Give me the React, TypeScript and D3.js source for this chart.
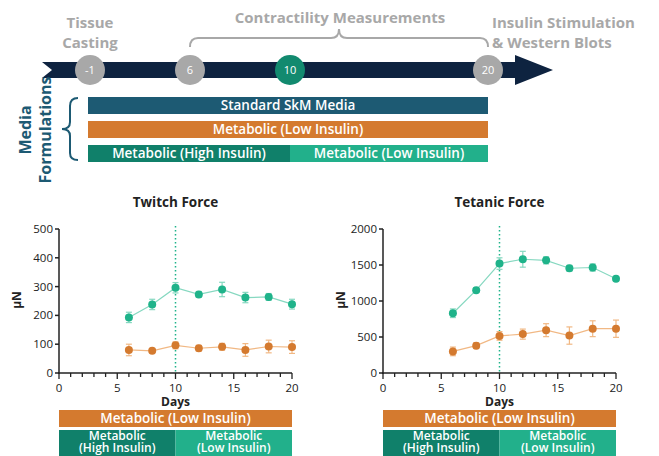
import React from 'react';
import * as d3 from 'd3';

// timeline
const stageDays = [-1, 6, 10, 20];
const stagePos = [90, 190, 290, 488];

// measurement days
const days = [6, 8, 10, 12, 14, 16, 18, 20];

const twitchHigh = [193, 238, 296, 273, 290, 262, 264, 239];
const twitchHighErr = [18, 18, 18, 10, 25, 18, 12, 17];
const twitchLow = [80, 77, 96, 86, 91, 80, 92, 90];
const twitchLowErr = [20, 5, 12, 10, 12, 22, 22, 22];

const tetanicHigh = [830, 1150, 1520, 1580, 1565, 1455, 1465, 1310];
const tetanicHighErr = [60, 30, 80, 110, 50, 40, 50, 20];
const tetanicLow = [300, 380, 515, 540, 595, 520, 615, 615];
const tetanicLowErr = [60, 40, 60, 70, 90, 120, 110, 120];

const twitchTicks = [0, 100, 200, 300, 400, 500];
const tetanicTicks = [0, 500, 1000, 1500, 2000];

const GREEN = '#1fb38a';
const GREEN_LINE = '#86d8c0';
const ORANGE = '#d47a2f';
const ORANGE_LINE = '#f1b884';
const DARK_GREEN = '#10806a';
const LIGHT_GREEN = '#22b08b';
const NAVY = '#1d5a73';
const GRAY = '#a8a8a8';
const FONT = '"Open Sans", Lato, sans-serif';

type Series = { vals: number[]; err: number[]; color: string; line: string };

function Chart({ x0, title, yMax, ticks, series }: { x0: number; title: string; yMax: number; ticks: number[]; series: Series[] }) {
  const x = d3.scaleLinear().domain([0, 20]).range([x0, x0 + 233]);
  const y = d3.scaleLinear().domain([0, yMax]).range([373, 229]);
  const line = d3.line<number>().x((_, i) => x(days[i])).y((v) => y(v));
  const minor = d3.range(0, 21);
  const cx = (x(0) + x(20)) / 2;
  const lx = (x(0) + x(10)) / 2;
  const rx = (x(10) + x(20)) / 2;
  return (
    <g fontFamily={FONT}>
      <text x={cx} y={207} textAnchor="middle" fontSize={13.5} fontWeight={700} fill="#222">{title}</text>
      <line x1={x(10)} x2={x(10)} y1={226} y2={373} stroke={GREEN} strokeWidth={1.5} strokeDasharray="1.5,2.5" />
      {series.map((s, si) => (
        <g key={si}>
          <path d={line(s.vals) || ''} fill="none" stroke={s.line} strokeWidth={1.2} />
          {s.vals.map((v, i) => (
            <g key={i} stroke={s.line} strokeWidth={1.2}>
              <line x1={x(days[i])} x2={x(days[i])} y1={y(v - s.err[i])} y2={y(v + s.err[i])} />
              <line x1={x(days[i]) - 3} x2={x(days[i]) + 3} y1={y(v - s.err[i])} y2={y(v - s.err[i])} />
              <line x1={x(days[i]) - 3} x2={x(days[i]) + 3} y1={y(v + s.err[i])} y2={y(v + s.err[i])} />
              <circle cx={x(days[i])} cy={y(v)} r={4} fill={s.color} stroke="none" />
            </g>
          ))}
        </g>
      ))}
      <line x1={x(0)} x2={x(0)} y1={229} y2={374} stroke="#222" strokeWidth={1.5} />
      <line x1={x(0) - 1} x2={x(20)} y1={373} y2={373} stroke="#222" strokeWidth={1.5} />
      {ticks.map((t) => (
        <g key={t}>
          <line x1={x(0) - 4} x2={x(0)} y1={y(t)} y2={y(t)} stroke="#222" strokeWidth={1.5} />
          <text x={x(0) - 6} y={y(t) + 4} textAnchor="end" fontSize={11.5} fill="#222">{t}</text>
        </g>
      ))}
      {minor.map((d) => (
        <line key={d} x1={x(d)} x2={x(d)} y1={373} y2={d % 5 === 0 ? 379 : 377} stroke="#222" strokeWidth={1.3} />
      ))}
      {[0, 5, 10, 15, 20].map((d) => (
        <text key={d} x={x(d)} y={392} textAnchor="middle" fontSize={11.5} fill="#222">{d}</text>
      ))}
      <text x={cx} y={406} textAnchor="middle" fontSize={12} fontWeight={700} fill="#222">Days</text>
      <text transform={`translate(${x0 - 38},300) rotate(-90)`} textAnchor="middle" fontSize={12} fontWeight={700} fill="#222">μN</text>
      <rect x={x(0)} y={410} width={x(20) - x(0)} height={17} fill={ORANGE} />
      <text x={cx} y={423} textAnchor="middle" fontSize={13.5} fontWeight={600} fill="#fff">Metabolic (Low Insulin)</text>
      <rect x={x(0)} y={430} width={x(10) - x(0)} height={30} fill={DARK_GREEN} />
      <rect x={x(10)} y={430} width={x(20) - x(10)} height={30} fill={LIGHT_GREEN} />
      <g fontSize={12} fontWeight={600} fill="#fff" textAnchor="middle">
        <text x={lx} y={440}>Metabolic</text>
        <text x={lx} y={452}>(High Insulin)</text>
        <text x={rx} y={440}>Metabolic</text>
        <text x={rx} y={452}>(Low Insulin)</text>
      </g>
    </g>
  );
}

export default function App() {
  const t = d3.scaleLinear().domain(stageDays).range(stagePos);
  const barL = t(-1) - 2;
  const barR = t(20);
  const bx = t(6), bx2 = t(20), bm = (bx + bx2) / 2;
  const brace = `M${bx},47 Q${bx},38 ${bx + 8},38 L${bm - 8},38 Q${bm},38 ${bm},29 Q${bm},38 ${bm + 8},38 L${bx2 - 8},38 Q${bx2},38 ${bx2},47`;
  const lb = `M78,98 Q70,98 70,106 L70,122 Q70,129 62,129 Q70,129 70,136 L70,153 Q70,160 78,160`;
  return (
    <svg width={659} height={456} style={{ position: 'absolute', left: 0, top: 0, background: '#fff' }} fontFamily={FONT}>
      {/* timeline header */}
      <g fill={GRAY} fontSize={15} fontWeight={700}>
        <text x={90} y={28} textAnchor="middle">Tissue</text>
        <text x={90} y={48} textAnchor="middle">Casting</text>
        <text x={340} y={23} textAnchor="middle">Contractility Measurements</text>
        <text x={492} y={28}>Insulin Stimulation</text>
        <text x={492} y={48}>&amp; Western Blots</text>
      </g>
      <path d={brace} fill="none" stroke={GRAY} strokeWidth={2} />
      <path d={`M42,62 L515,62 L515,55 L553,70 L515,85 L515,78 L42,78 L52,70 Z`} fill="#0e2340" />
      {stageDays.map((d) => (
        <g key={d}>
          <circle cx={t(d)} cy={70} r={15} fill={d === 10 ? '#128a6f' : GRAY} />
          <text x={t(d)} y={74} textAnchor="middle" fontSize={11} fill="#fff">{d}</text>
        </g>
      ))}
      {/* media bars */}
      <g fontSize={13.5} fontWeight={600} fill="#fff" textAnchor="middle">
        <rect x={barL} y={97} width={barR - barL} height={17} fill={NAVY} />
        <text x={(barL + barR) / 2} y={110}>Standard SkM Media</text>
        <rect x={barL} y={121} width={barR - barL} height={17} fill={ORANGE} />
        <text x={(barL + barR) / 2} y={134}>Metabolic (Low Insulin)</text>
        <rect x={barL} y={145} width={t(10) - barL} height={17} fill={DARK_GREEN} />
        <rect x={t(10)} y={145} width={barR - t(10)} height={17} fill={LIGHT_GREEN} />
        <text x={(barL + t(10)) / 2} y={158}>Metabolic (High Insulin)</text>
        <text x={(t(10) + barR) / 2} y={158}>Metabolic (Low Insulin)</text>
      </g>
      <path d={lb} fill="none" stroke={NAVY} strokeWidth={2} />
      <text transform="translate(31,130) rotate(-90)" textAnchor="middle" fontSize={16} fontWeight={700} fill={NAVY}>Media</text>
      <text transform="translate(51,130) rotate(-90)" textAnchor="middle" fontSize={16} fontWeight={700} fill={NAVY}>Formulations</text>
      <Chart x0={59} title="Twitch Force" yMax={500} ticks={twitchTicks}
        series={[
          { vals: twitchHigh, err: twitchHighErr, color: GREEN, line: GREEN_LINE },
          { vals: twitchLow, err: twitchLowErr, color: ORANGE, line: ORANGE_LINE },
        ]} />
      <Chart x0={383} title="Tetanic Force" yMax={2000} ticks={tetanicTicks}
        series={[
          { vals: tetanicHigh, err: tetanicHighErr, color: GREEN, line: GREEN_LINE },
          { vals: tetanicLow, err: tetanicLowErr, color: ORANGE, line: ORANGE_LINE },
        ]} />
    </svg>
  );
}
